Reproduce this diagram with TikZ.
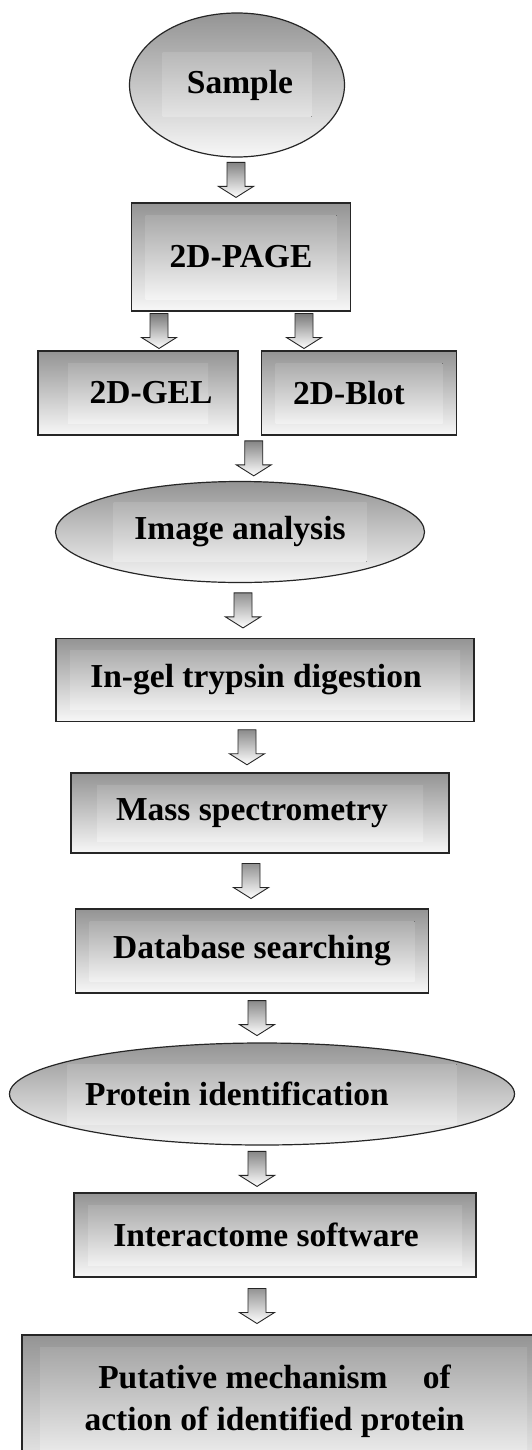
\documentclass[tikz,border=0pt]{standalone}
\usepackage{fontspec}
\setmainfont{Liberation Serif}
\usepackage{tikz}
\usetikzlibrary{shapes,calc}

\tikzset{
  inx/.store in=\inx, iny/.store in=\iny, inx=14pt, iny=12pt,
  panel/.style={draw=black!85, line width=1.5pt, top color=black!42, bottom color=black!3,
    path picture={\fill[top color=black!38, bottom color=white]
      ([shift={(\inx,-\iny)}]path picture bounding box.north west) rectangle
      ([shift={(-\inx,\iny)}]path picture bounding box.south east);}},
  rbox/.style={panel, rectangle},
  oval/.style={panel, ellipse, line width=1.2pt, inx=50pt, iny=21pt},
  blk/.style={draw=black!85, line width=0.9pt, top color=black!55, bottom color=white,
    to path={let \p1=(\tikztostart), \p3=($(\tikztostart)!.5!(\tikztotarget)$) in
      (\x1-9pt,\y3+17.5pt) -- (\x1+9pt,\y3+17.5pt) -- (\x1+9pt,\y3-6.5pt) -- (\x1+17.5pt,\y3-6.5pt)
      -- (\x1,\y3-17.5pt) -- (\x1-17.5pt,\y3-6.5pt) -- (\x1-9pt,\y3-6.5pt) -- cycle}}
}

\begin{document}
\begin{tikzpicture}[x=1pt,y=-1pt,font=\fontsize{33.5}{42}\selectfont\bfseries]
  \fill[white] (0,0) rectangle (532,1450);
  \clip (0,0) rectangle (532,1450);

  % steps
  \node[oval, minimum width=215, minimum height=144, inx=33pt, iny=40pt,
        label={[xshift=3]center:Sample}] (smp) at (237,85) {};
  \node[rbox, minimum width=219, minimum height=108, label={center:2D-PAGE}] (page) at (241,257) {};
  \node[rbox, minimum width=200, minimum height=84, inx=30pt, label={[xshift=13]center:2D-GEL}] (gel) at (138,393) {};
  \node[rbox, minimum width=195, minimum height=84, label={[xshift=-10]center:2D-Blot}] (blot) at (359,393) {};
  \node[oval, minimum width=369, minimum height=101, inx=58pt, label={center:Image analysis}] (img) at (240,532) {};
  \node[rbox, minimum width=418, minimum height=83, label={[xshift=-9]center:In-gel trypsin digestion}] (dig) at (265,680) {};
  \node[rbox, minimum width=378, minimum height=80, inx=26pt, label={[xshift=-8]center:Mass spectrometry}] (mass) at (260,813) {};
  \node[rbox, minimum width=353, minimum height=84, label={center:Database searching}] (db) at (252,951) {};
  \node[oval, minimum width=505, minimum height=102, inx=58pt, label={[xshift=-25]center:Protein identification}] (prot) at (262,1094) {};
  \node[rbox, minimum width=402, minimum height=84, label={[xshift=-9]center:Interactome software}] (inter) at (275,1235) {};
  \node[rbox, minimum width=523, minimum height=150, inx=18pt,
        label={[align=center,xshift=-9,yshift=9]center:Putative mechanism\hspace{0.8em} of\\action of identified protein}] (put) at (283.5,1410) {};

  % block arrows
  \draw[blk] ([xshift=-1pt]smp.south) to (page.north);
  \draw[blk] ([xshift=-82pt]page.south) to (gel.north);
  \draw[blk] ([xshift=63pt]page.south) to (blot.north);
  \draw[blk] ([xshift=15pt]gel.south east) to (img.north);
  \draw[blk] ([xshift=3pt]img.south) to (dig.north);
  \draw[blk] ([xshift=-18pt]dig.south) to (mass.north);
  \draw[blk] ([xshift=-9pt]mass.south) to (db.north);
  \draw[blk] ([xshift=5pt]db.south) to (prot.north);
  \draw[blk] ([xshift=-5pt]prot.south) to (inter.north);
  \draw[blk] ([xshift=-18pt]inter.south) to (put.north);
\end{tikzpicture}
\end{document}
